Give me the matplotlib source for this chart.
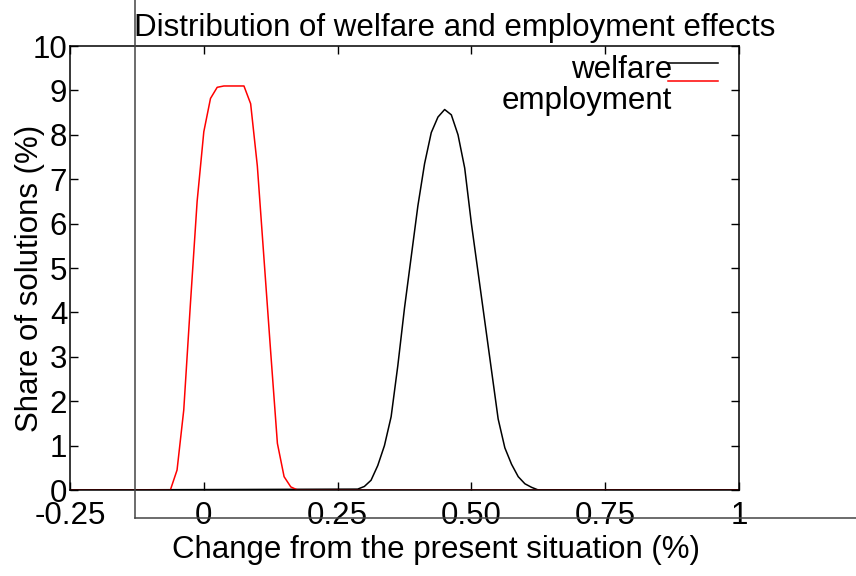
import matplotlib
matplotlib.use("Agg")
import matplotlib.pyplot as plt
from matplotlib.lines import Line2D

plt.rcParams['font.family'] = ['Liberation Sans', 'DejaVu Sans']

# employment effect distribution
emp_x = [-0.25, -0.0625, -0.05, -0.0375, -0.025, -0.0125, 0.0, 0.0125, 0.025,
         0.0375, 0.05, 0.0625, 0.075, 0.0875, 0.1, 0.1125, 0.125, 0.1375,
         0.15, 0.1625, 0.175, 1.0]
emp_y = [0.0, 0.0, 0.45, 1.8, 4.2, 6.5, 8.07, 8.82, 9.07,
         9.1, 9.1, 9.1, 9.1, 8.7, 7.3, 5.2, 3.1, 1.05,
         0.3, 0.07, 0.0, 0.0]

# welfare effect distribution
wel_x = [-0.25, 0.2875, 0.3, 0.3125, 0.325, 0.3375, 0.35, 0.3625, 0.375,
         0.3875, 0.4, 0.4125, 0.425, 0.4375, 0.45, 0.4625, 0.475, 0.4875,
         0.5, 0.5125, 0.525, 0.5375, 0.55, 0.5625, 0.575, 0.5875, 0.6,
         0.6125, 0.625, 1.0]
wel_y = [0.0, 0.02, 0.08, 0.22, 0.55, 1.0, 1.65, 2.8, 4.1,
         5.25, 6.4, 7.35, 8.05, 8.4, 8.57, 8.45, 8.0, 7.25,
         6.0, 4.9, 3.8, 2.7, 1.6, 0.95, 0.58, 0.3, 0.14,
         0.06, 0.0, 0.0]

xticks = [-0.25, 0, 0.25, 0.5, 0.75, 1]
xticklabels = ['-0.25', '0', '0.25', '0.50', '0.75', '1']
yticks = list(range(0, 11))

FS = 22.5

fig = plt.figure(figsize=(8.56, 5.76), dpi=100)
ax = fig.add_axes([0.0818, 0.1493, 0.7815, 0.7708])

ax.plot(wel_x, wel_y, color='black', lw=1.1)
ax.plot(emp_x, emp_y, color='red', lw=1.1)

ax.set_xlim(-0.25, 1)
ax.set_ylim(0, 10)
ax.set_xticks(xticks)
ax.set_xticklabels(xticklabels)
ax.set_yticks(yticks)
ax.tick_params(direction='in', length=6, width=1, top=True, right=True,
               labelsize=FS)
ax.tick_params(axis='x', pad=8)
ax.tick_params(axis='y', pad=2)
for s in ax.spines.values():
    s.set_linewidth(1.1)

# legend, drawn the gnuplot way
ax.text(0.900, 0.946, 'welfare', transform=ax.transAxes, ha='right',
        va='center', fontsize=FS)
ax.text(0.900, 0.876, 'employment', transform=ax.transAxes, ha='right',
        va='center', fontsize=FS)
ax.add_line(Line2D([0.894, 0.9686], [0.9617, 0.9617], transform=ax.transAxes,
                   color='black', lw=1.1))
ax.add_line(Line2D([0.894, 0.9686], [0.9218, 0.9218], transform=ax.transAxes,
                   color='red', lw=1.1))

fig.text(0.5316, 0.951, 'Distribution of welfare and employment effects',
         ha='center', va='center', fontsize=FS)
fig.text(0.509, 0.045, 'Change from the present situation (%)',
         ha='center', va='center', fontsize=FS)
fig.text(0.0345, 0.517, 'Share of solutions (%)', rotation=90,
         ha='center', va='center', fontsize=FS)

# stray frame lines
fig.add_artist(Line2D([0.1577, 0.1577], [0.1007, 1.0], transform=fig.transFigure,
                      color='#444444', lw=1.1))
fig.add_artist(Line2D([0.1577, 1.0], [0.1007, 0.1007], transform=fig.transFigure,
                      color='#444444', lw=1.1))

fig.savefig('out.png', dpi=100)
